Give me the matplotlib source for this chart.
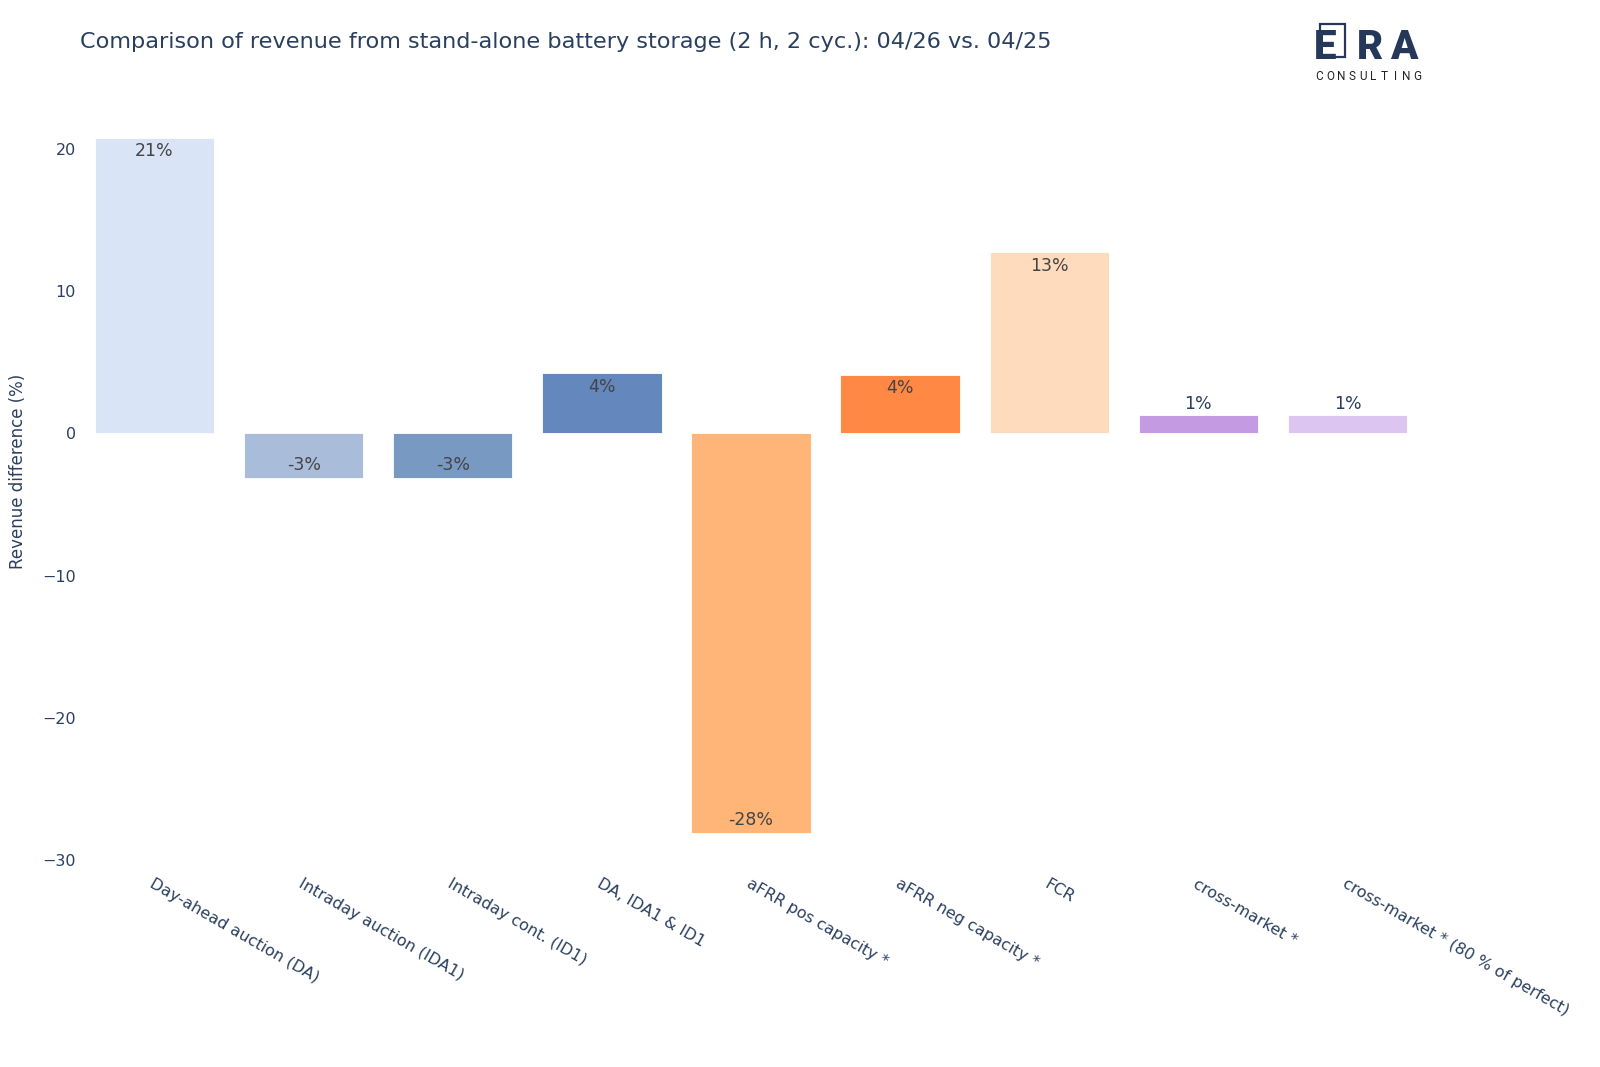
import matplotlib
matplotlib.use("Agg")
import matplotlib.pyplot as plt
from matplotlib.patches import Rectangle

# ---- data ----
categories = [
    "Day-ahead auction (DA)",
    "Intraday auction (IDA1)",
    "Intraday cont. (ID1)",
    "DA, IDA1 & ID1",
    "aFRR pos capacity *",
    "aFRR neg capacity *",
    "FCR",
    "cross-market *",
    "cross-market * (80 % of perfect)",
]
values = [20.76, -3.16, -3.16, 4.21, -28.1, 4.12, 12.72, 1.26, 1.26]
bar_colors = ["#d9e5f6", "#a9bddb", "#7799c2", "#6487bd", "#ffb578",
              "#ff8844", "#ffdbbd", "#c49ae2", "#ddc5f1"]
yticks = [-30, -20, -10, 0, 10, 20]

title = "Comparison of revenue from stand-alone battery storage (2 h, 2 cyc.): 04/26 vs. 04/25"
ylabel = "Revenue difference (%)"

NAVY = "#2a3f5f"
plt.rcParams["font.family"] = ["DejaVu Sans"]

W, H = 1600, 1067
fig = plt.figure(figsize=(W / 100, H / 100), dpi=100)
ax = fig.add_axes([80 / W, 1 - 868 / H, (1422 - 80) / W, (868 - 102.7) / H])

x = list(range(len(categories)))
ax.bar(x, values, width=0.8, color=bar_colors, edgecolor="white", linewidth=0.6)
ax.set_xlim(-0.5, len(categories) - 0.5)
ax.set_ylim(-30.53, 23.22)

for s in ax.spines.values():
    s.set_visible(False)
ax.set_yticks(yticks)
ax.tick_params(axis="y", length=0, labelsize=11.5, labelcolor=NAVY, pad=3)
ax.set_xticks(x)
ax.set_xticklabels(categories, rotation=-30, ha="left", va="top",
                   rotation_mode="anchor", fontsize=11.5, color=NAVY)
ax.tick_params(axis="x", length=0, pad=6)

ax.set_ylabel(ylabel, fontsize=12, color=NAVY, va="center")
ax.yaxis.set_label_coords(-0.0459, 0.518)

# bar value labels
for xi, v in zip(x, values):
    txt = f"{v:.0f}%"
    if abs(v) >= 2:
        off = -13.5 if v > 0 else 13.5
        color = "#444444"
    else:
        off = 11.5 if v > 0 else -11.5
        color = NAVY
    ax.annotate(txt, (xi, v), xytext=(0, off * 0.72), textcoords="offset points",
                ha="center", va="center", fontsize=12.5, color=color)

fig.text(80 / W, 1 - 42 / H, title, fontsize=16.15, color=NAVY, ha="left", va="center")

# logo
LOGO = "#263859"
fig.patches.append(Rectangle((1320 / W, 1 - 57 / H), 25 / W, 33 / H, fill=False,
                             edgecolor=LOGO, linewidth=1.6, transform=fig.transFigure))
for ch, cx in zip("ERA", [1314, 1357, 1390]):
    fig.text(cx / W, 1 - 59 / H, ch, fontsize=29, fontweight="heavy", color=LOGO,
             family="Roboto", ha="left", va="baseline")
for i, ch in enumerate("CONSULTING"):
    fig.text((1319 + i * 10.9) / W, 1 - 77 / H, ch, fontsize=8.5, color="#222222",
             family="Roboto", ha="center", va="center")

fig.savefig("out.png", dpi=100, facecolor="white")
